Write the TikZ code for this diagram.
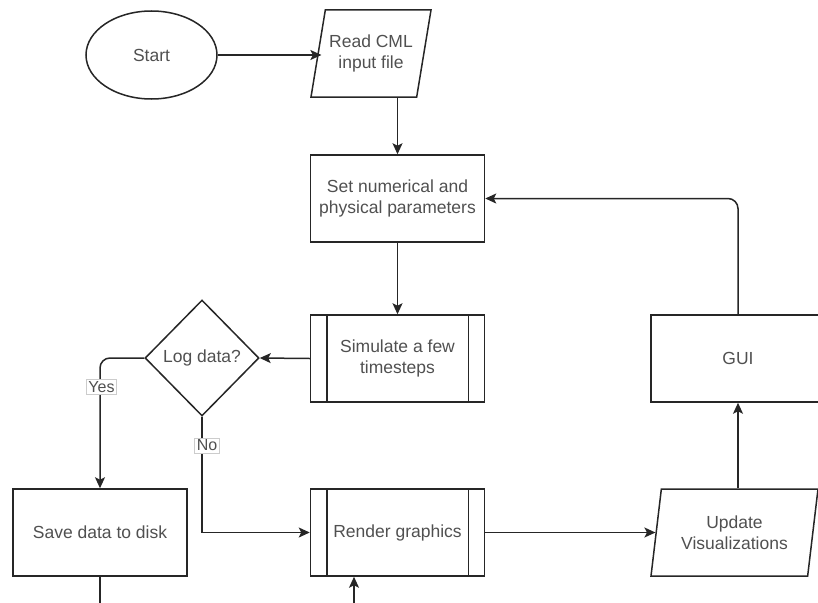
\documentclass[tikz,border=0pt]{standalone}
\usepackage{fontspec}
\setmainfont{Liberation Sans}
\usetikzlibrary{shapes.geometric,arrows.meta}
\definecolor{ln}{HTML}{262626}
\definecolor{tx}{HTML}{505050}
\begin{document}
\begin{tikzpicture}[x=1pt,y=-1pt,
  base/.style={draw=ln, line width=1.5pt, text=tx, font=\fontsize{17.5}{21}\selectfont, align=center, inner sep=0pt},
  box/.style={base, rectangle, minimum width=174pt, minimum height=87pt},
  io/.style={base, trapezium, trapezium stretches body, minimum height=87pt},
  wire/.style={draw=ln, line width=1.5pt},
  conn/.style={wire, -{Stealth[length=11pt,width=10pt,inset=2.5pt]}},
  lbl/.style={draw=black!20, fill=white, text=tx, font=\fontsize{16}{19}\selectfont, inner sep=2pt, line width=0.6pt}]
\useasboundingbox (0,0) rectangle (818,602);
\clip (0,0) rectangle (818,602);

\node[base, ellipse, minimum width=131pt, minimum height=88pt] (start) at (151.5,55) {Start};
\node[io, minimum width=120pt, trapezium left angle=69, trapezium right angle=111] (read) at (371,53.5) {Read CML\\input file};
\node[box] (set) at (397.5,198.5) {Set numerical and\\physical parameters};
\node[box] (sim) at (397.5,358.5) {Simulate a few\\timesteps};
\node[base, diamond, minimum width=114pt, minimum height=116pt] (log) at (202,358) {Log data?};
\node[box] (save) at (100,532.5) {Save data to disk};
\node[box] (render) at (397.5,532.5) {Render graphics};
\node[io, minimum width=167pt, trapezium left angle=73, trapezium right angle=107] (update) at (734.5,532.5) {Update\\Visualizations};
\node[box] (gui) at (738,358.5) {GUI};

\foreach \n in {sim,render}{
  \draw[wire] ([xshift=17pt]\n.north west) -- ([xshift=17pt]\n.south west);
  \draw[wire] ([xshift=-17pt]\n.north east) -- ([xshift=-17pt]\n.south east);
}

\draw[conn] (start.east) -- ([xshift=4pt]start.east -| read.left side);
\draw[conn] (read.south -| set.north) -- (set.north);
\draw[conn] (set.south) -- (sim.north);
\draw[conn] (sim.west) -- (log.east);
\draw[conn, rounded corners=10pt] (log.west) -| (save.north);
\draw[conn] (log.south) |- (render.west);
\draw[conn] (render.east) -- (render.east -| update.left side);
\draw[conn] (gui.south |- update.north) -- (gui.south);
\draw[conn, rounded corners=10pt] (gui.north) |- (set.east);
\coordinate (sb) at (100,612);
\draw[wire] (save.south) -- (save.south |- sb);
\coordinate (rb) at (354,612);
\draw[conn] (rb) -- (rb |- render.south);

\node[lbl] (yes) at (101.5,387) {Yes};
\node[lbl] (no) at (207,445.5) {No};
\end{tikzpicture}
\end{document}
